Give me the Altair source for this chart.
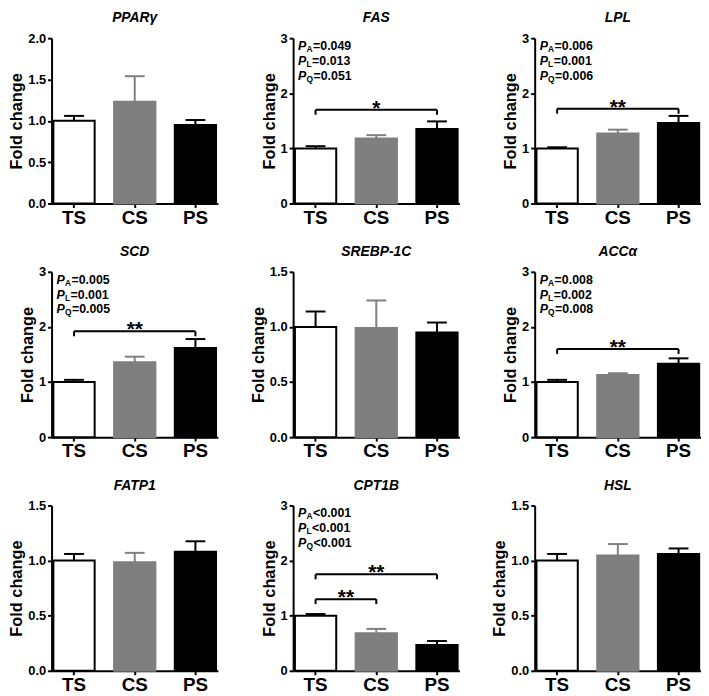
import altair as alt
import pandas as pd

FONT = "Liberation Sans"

groups = ["TS", "CS", "PS"]
genes = ["PPARγ", "FAS", "LPL", "SCD", "SREBP-1C", "ACCα", "FATP1", "CPT1B", "HSL"]

means = {
    "PPARγ": [1.00, 1.23, 0.95],
    "FAS": [1.00, 1.18, 1.35],
    "LPL": [1.00, 1.27, 1.46],
    "SCD": [1.00, 1.36, 1.62],
    "SREBP-1C": [1.00, 0.99, 0.95],
    "ACCα": [1.00, 1.13, 1.33],
    "FATP1": [1.00, 0.985, 1.08],
    "CPT1B": [1.00, 0.68, 0.47],
    "HSL": [1.00, 1.045, 1.06],
}
err_top = {
    "PPARγ": [1.06, 1.54, 1.01],
    "FAS": [1.04, 1.24, 1.49],
    "LPL": [1.02, 1.34, 1.59],
    "SCD": [1.04, 1.46, 1.78],
    "SREBP-1C": [1.14, 1.24, 1.04],
    "ACCα": [1.04, 1.16, 1.43],
    "FATP1": [1.06, 1.07, 1.175],
    "CPT1B": [1.03, 0.76, 0.54],
    "HSL": [1.06, 1.15, 1.11],
}
y_max = {"PPARγ": 2.0, "FAS": 3, "LPL": 3, "SCD": 3, "SREBP-1C": 1.5,
         "ACCα": 3, "FATP1": 1.5, "CPT1B": 3, "HSL": 1.5}
y_step = {"PPARγ": 0.5, "FAS": 1, "LPL": 1, "SCD": 1, "SREBP-1C": 0.5,
          "ACCα": 1, "FATP1": 0.5, "CPT1B": 1, "HSL": 0.5}

p_subs = ["A", "L", "Q"]
p_values = {
    "FAS": ["=0.049", "=0.013", "=0.051"],
    "LPL": ["=0.006", "=0.001", "=0.006"],
    "SCD": ["=0.005", "=0.001", "=0.005"],
    "ACCα": ["=0.008", "=0.002", "=0.008"],
    "CPT1B": ["<0.001", "<0.001", "<0.001"],
}
# gene, from group, to group, bracket height, label
brackets = [
    ("FAS", "TS", "PS", 1.70, "*"),
    ("LPL", "TS", "PS", 1.72, "**"),
    ("SCD", "TS", "PS", 1.92, "**"),
    ("ACCα", "TS", "PS", 1.60, "**"),
    ("CPT1B", "TS", "PS", 1.75, "**"),
    ("CPT1B", "TS", "CS", 1.30, "**"),
]

fills = ["#ffffff", "#7f7f7f", "#000000"]
strokes = ["#000000", "#7f7f7f", "#000000"]

W = 168
H = 167
PAD_INNER = 0.32
PAD_OUTER = 0.03
STEP = W / (len(groups) - PAD_INNER + 2 * PAD_OUTER)
SUB_W = {"A": 0.722, "L": 0.611, "Q": 0.778}


def panel(gene):
    ymax = y_max[gene]
    step = y_step[gene]
    n = int(round(ymax / step))
    ticks = [round(i * step, 2) for i in range(n + 1)]
    fmt = ".1f" if step < 1 else "d"
    xscale = alt.Scale(domain=groups, paddingInner=PAD_INNER, paddingOuter=PAD_OUTER)
    xaxis = alt.Axis(title=None, labelAngle=0)
    yscale = alt.Scale(domain=[0, ymax], nice=False, zero=True)
    yaxis = alt.Axis(values=ticks, format=fmt, title="Fold change")

    def xe(f):
        return alt.X(f"{f}:N", scale=xscale, axis=xaxis, sort=groups)

    def ye(f):
        return alt.Y(f"{f}:Q", scale=yscale, axis=yaxis)

    df = pd.DataFrame({"group": groups, "mean": means[gene], "top": err_top[gene]})
    base = alt.Chart(df)
    bars = base.mark_bar(strokeWidth=2).encode(
        x=xe("group"), y=ye("mean"),
        fill=alt.Fill("group:N", scale=alt.Scale(domain=groups, range=fills), legend=None),
        stroke=alt.Stroke("group:N", scale=alt.Scale(domain=groups, range=strokes), legend=None),
    )
    ecol = alt.Color("group:N", scale=alt.Scale(domain=groups, range=strokes), legend=None)
    rules = base.mark_rule(strokeWidth=2).encode(
        x=xe("group"), y=ye("mean"), y2="top:Q", color=ecol)
    caps = base.mark_tick(size=20, thickness=2, opacity=1).encode(
        x=xe("group"), y=ye("top"), color=ecol)
    layers = [bars, rules, caps]

    dummy = pd.DataFrame({"k": [0]})
    layers.append(alt.Chart(dummy).mark_text(
        align="center", baseline="alphabetic", fontSize=14, fontStyle="italic",
        fontWeight="bold", font=FONT, color="black"
    ).encode(x=alt.value(W / 2), y=alt.value(-16), text=alt.value(gene)))

    drop = 5 * ymax / H
    segs = []
    for g, a, b, yb, lab in brackets:
        if g != gene:
            continue
        segs += [(a, b, yb, yb), (a, a, yb, yb - drop), (b, b, yb, yb - drop)]
        ia, ib = groups.index(a), groups.index(b)
        mid = (ia + ib) / 2
        mcat = groups[int(mid)]
        dxv = (mid - int(mid)) * STEP
        star = alt.Chart(pd.DataFrame({"x": [mcat], "y": [yb], "t": [lab]})).mark_text(
            dx=dxv, dy=5, baseline="alphabetic", align="center", fontSize=21,
            fontWeight="bold", font=FONT, color="black"
        ).encode(x=xe("x"), y=ye("y"), text="t:N")
        layers.append(star)
    if segs:
        sdf = pd.DataFrame(segs, columns=["x", "x2", "y", "y2"])
        layers.append(alt.Chart(sdf).mark_rule(strokeWidth=2, color="black").encode(
            x=xe("x"), x2="x2:N", y=ye("y"), y2="y2:Q"))

    if gene in p_values:
        for i, (sub, rest) in enumerate(zip(p_subs, p_values[gene])):
            py = 8 + 15 * i
            layers.append(alt.Chart(dummy).mark_text(
                align="left", baseline="middle", fontSize=12.5, fontStyle="italic",
                fontWeight="bold", font=FONT, color="black"
            ).encode(x=alt.value(5), y=alt.value(py), text=alt.value("P")))
            layers.append(alt.Chart(dummy).mark_text(
                align="left", baseline="middle", fontSize=8.5,
                fontWeight="bold", font=FONT, color="black"
            ).encode(x=alt.value(13.5), y=alt.value(py + 3), text=alt.value(sub)))
            layers.append(alt.Chart(dummy).mark_text(
                align="left", baseline="middle", fontSize=12.5,
                fontWeight="bold", font=FONT, color="black"
            ).encode(x=alt.value(14 + SUB_W[sub] * 8.5), y=alt.value(py), text=alt.value(rest)))

    return alt.layer(*layers).properties(width=W, height=H)


chart = alt.concat(*[panel(g) for g in genes], columns=3,
                   spacing={"row": 69, "column": 76}, bounds="flush").properties(
    padding=0
).configure_view(stroke=None).configure_axis(
    domainColor="black", domainWidth=2, tickColor="black", tickWidth=2,
    labelColor="black", titleColor="black", labelFont=FONT, titleFont=FONT,
    labelFontWeight="bold", titleFontWeight="bold", grid=False,
).configure_axisY(
    labelFontSize=13, titleFontSize=16.5, tickSize=4, labelPadding=2, titlePadding=3,
).configure_axisX(
    labelFontSize=19, tickSize=4, labelPadding=1,
)

chart.save("out.html", embed_options={"renderer": "svg", "actions": False})
